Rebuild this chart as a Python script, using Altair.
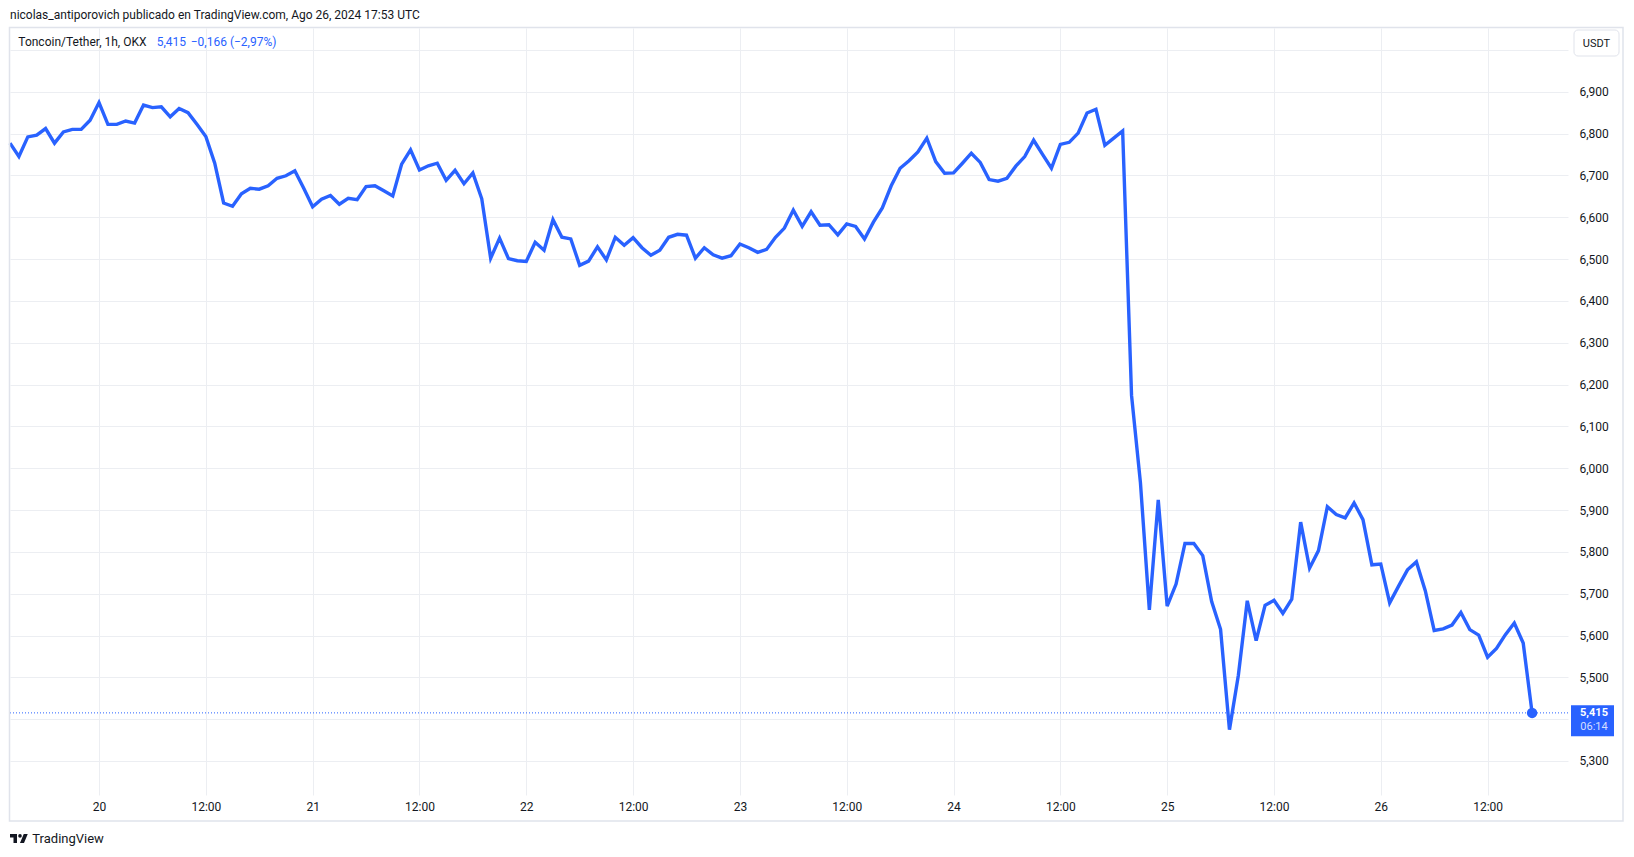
import altair as alt
import pandas as pd

# ---------------- data (hourly closes, TONUSDT, OKX) ----------------
START = "2024-08-19 14:00"
aug19 = [6.777, 6.745, 6.792, 6.796, 6.812, 6.777, 6.804, 6.810, 6.810, 6.832]
aug20 = [6.874, 6.822, 6.822, 6.830, 6.825, 6.868, 6.862, 6.864, 6.840, 6.860, 6.850, 6.822,
         6.793, 6.729, 6.634, 6.626, 6.656, 6.669, 6.667, 6.675, 6.693, 6.699, 6.711, 6.669]
aug21 = [6.625, 6.643, 6.652, 6.631, 6.645, 6.642, 6.673, 6.675, 6.663, 6.651, 6.727, 6.761,
         6.713, 6.723, 6.729, 6.688, 6.712, 6.680, 6.706, 6.644, 6.502, 6.550, 6.501, 6.496]
aug22 = [6.494, 6.540, 6.521, 6.594, 6.552, 6.548, 6.485, 6.495, 6.529, 6.498, 6.552, 6.533,
         6.551, 6.527, 6.509, 6.521, 6.552, 6.559, 6.557, 6.502, 6.527, 6.510, 6.502, 6.508]
aug23 = [6.536, 6.527, 6.516, 6.523, 6.552, 6.574, 6.617, 6.578, 6.613, 6.581, 6.582, 6.558,
         6.584, 6.578, 6.548, 6.588, 6.622, 6.675, 6.717, 6.735, 6.756, 6.789, 6.733, 6.705]
aug24 = [6.706, 6.729, 6.753, 6.731, 6.690, 6.686, 6.693, 6.722, 6.745, 6.784, 6.750, 6.717,
         6.774, 6.779, 6.801, 6.849, 6.858, 6.772, 6.789, 6.806, 6.174, 5.965, 5.661, 5.924]
aug25 = [5.670, 5.723, 5.820, 5.820, 5.791, 5.681, 5.615, 5.375, 5.505, 5.683, 5.588, 5.672,
         5.684, 5.653, 5.687, 5.871, 5.761, 5.803, 5.908, 5.889, 5.881, 5.917, 5.877, 5.769]
aug26 = [5.771, 5.678, 5.718, 5.757, 5.776, 5.707, 5.612, 5.616, 5.625, 5.655, 5.614, 5.601,
         5.548, 5.569, 5.602, 5.630, 5.582, 5.415]

prices = aug19 + aug20 + aug21 + aug22 + aug23 + aug24 + aug25 + aug26

# axis ticks / labels
X_TICKS = ["2024-08-20 00:00", "2024-08-20 12:00", "2024-08-21 00:00", "2024-08-21 12:00",
           "2024-08-22 00:00", "2024-08-22 12:00", "2024-08-23 00:00", "2024-08-23 12:00",
           "2024-08-24 00:00", "2024-08-24 12:00", "2024-08-25 00:00", "2024-08-25 12:00",
           "2024-08-26 00:00", "2024-08-26 12:00"]
Y_TICKS = [5.3, 5.4, 5.5, 5.6, 5.7, 5.8, 5.9, 6.0, 6.1, 6.2, 6.3, 6.4, 6.5, 6.6, 6.7, 6.8, 6.9, 7.0]
Y_HIDDEN_LABELS = [5.4, 7.0]   # grid lines drawn, labels hidden behind price / currency boxes
X_DOMAIN = ["2024-08-19 14:00", "2024-08-26 21:02"]
Y_DOMAIN = [5.2187, 7.0523]

HEADER = "nicolas_antiporovich publicado en TradingView.com, Ago 26, 2024 17:53 UTC"
SYMBOL = "Toncoin/Tether, 1h, OKX"
LAST_TXT = "5,415"
CHANGE_TXT = "\u22120,166 (\u22122,97%)"
COUNTDOWN = "06:14"
CURRENCY = "USDT"
BRAND = "TradingView"

# ---------------- styling ----------------
BLUE = "#2962ff"
TEXT = "#131722"
GRID = "#eceef2"
BORDER = "#e0e3eb"
FONT = "Roboto"
W, H = 1558, 767


def ms(s):
    return int(pd.Timestamp(s, tz="UTC").value // 10**6)


times = pd.date_range(start=START, periods=len(prices), freq="h", tz="UTC")
df = pd.DataFrame({"time": times.strftime("%Y-%m-%dT%H:%M:%SZ"), "price": prices})
last = df.iloc[[-1]].copy()
last["label"] = LAST_TXT
last["cd"] = COUNTDOWN

xscale = alt.Scale(type="utc", domain=[ms(X_DOMAIN[0]), ms(X_DOMAIN[1])], nice=False)
yscale = alt.Scale(domain=Y_DOMAIN, nice=False, zero=False)

hidden_cond = " || ".join(f"abs(datum.value - {v}) < 0.0001" for v in Y_HIDDEN_LABELS)

x_axis = alt.Axis(values=[ms(t) for t in X_TICKS],
                  labelExpr="utchours(datum.value) == 0 ? utcFormat(datum.value, '%d') : utcFormat(datum.value, '%H:%M')",
                  grid=True, gridColor=GRID, gridWidth=1, ticks=False, tickSize=0, domain=False,
                  labelPadding=6, labelFont=FONT, labelFontSize=12, labelColor=TEXT, title=None,
                  labelFlush=False, labelOverlap=False, zindex=0)
y_axis = alt.Axis(orient="right", values=Y_TICKS,
                  labelExpr=f"({hidden_cond}) ? '' : replace(format(datum.value, '.3f'), '.', ',')",
                  grid=True, gridColor=GRID, gridWidth=1, ticks=False, tickSize=0, domain=False,
                  labelPadding=11, labelAlign="left", labelFont=FONT, labelFontSize=12,
                  labelColor=TEXT, title=None, labelFlush=False, labelOverlap=False, zindex=0)

X_ENC = alt.X("time:T", scale=xscale, axis=x_axis)
Y_ENC = alt.Y("price:Q", scale=yscale, axis=y_axis)

one = pd.DataFrame({"k": [0]})

line = alt.Chart(df).mark_line(color=BLUE, strokeWidth=3.4, strokeJoin="miter").encode(
    x=X_ENC, y=Y_ENC,
)

price_rule = alt.Chart(last).mark_rule(color=BLUE, strokeWidth=1, strokeDash=[1, 2]).encode(
    y=Y_ENC, x=alt.value(0), x2=alt.value(W),
)

dot = alt.Chart(last).mark_circle(size=110, color=BLUE, opacity=1).encode(x=X_ENC, y=Y_ENC)

BOX_PATH = "M-1,-0.72H1V0.72H-1Z"
price_box = alt.Chart(last).mark_point(shape=BOX_PATH, filled=True, fill=BLUE, strokeWidth=0,
                                       size=43 * 43, opacity=1, yOffset=7.8).encode(
    x=alt.value(1582.5), y=Y_ENC,
)
price_txt = alt.Chart(last).mark_text(font=FONT, fontSize=11, fontWeight="bold", color="white",
                                      align="center", baseline="middle", yOffset=0.5).encode(
    x=alt.value(1584), y=Y_ENC, text="label:N")
cd_txt = alt.Chart(last).mark_text(font=FONT, fontSize=11, color="#d5dfff",
                                   align="center", baseline="middle", yOffset=14.5).encode(
    x=alt.value(1584), y=Y_ENC, text="cd:N")

usdt_box = alt.Chart(one).mark_rect(fill="white", stroke=BORDER, strokeWidth=1, cornerRadius=4).encode(
    x=alt.value(1564), x2=alt.value(1609), y=alt.value(2), y2=alt.value(28))
usdt_txt = alt.Chart(pd.DataFrame({"t": [CURRENCY]})).mark_text(
    font=FONT, fontSize=11, color=TEXT, align="center", baseline="middle").encode(
    x=alt.value(1586.5), y=alt.value(15.5), text="t:N")

border = alt.Chart(one).mark_rect(filled=False, stroke=BORDER, strokeWidth=1.5).encode(
    x=alt.value(-0.5), x2=alt.value(1613), y=alt.value(-0.5), y2=alt.value(793))

header = alt.Chart(pd.DataFrame({"t": [HEADER]})).mark_text(
    font=FONT, fontSize=12, color=TEXT, align="left", baseline="middle").encode(
    x=alt.value(0), y=alt.value(-13), text="t:N")
symbol = alt.Chart(pd.DataFrame({"t": [SYMBOL]})).mark_text(
    font=FONT, fontSize=12, color=TEXT, align="left", baseline="middle").encode(
    x=alt.value(8.3), y=alt.value(13.7), text="t:N")
val1 = alt.Chart(pd.DataFrame({"t": [LAST_TXT]})).mark_text(
    font=FONT, fontSize=12, color=BLUE, align="left", baseline="middle").encode(
    x=alt.value(146.7), y=alt.value(13.7), text="t:N")
val2 = alt.Chart(pd.DataFrame({"t": [CHANGE_TXT]})).mark_text(
    font=FONT, fontSize=12, color=BLUE, align="left", baseline="middle").encode(
    x=alt.value(180.7), y=alt.value(13.7), text="t:N")

LOGO_PATH = ("M-0.222,0.5L-0.611,0.5L-0.611,-0.111L-1,-0.111L-1,-0.5L-0.222,-0.5Z"
             "M0.556,0.5L0.111,0.5L0.528,-0.5L0.972,-0.5Z")
logo = alt.Chart(one).mark_point(shape=LOGO_PATH, filled=True, fill=TEXT, strokeWidth=0,
                                 size=324, opacity=1).encode(
    x=alt.value(9), y=alt.value(810.4))
logo_dot = alt.Chart(one).mark_circle(size=13, color=TEXT, opacity=1).encode(
    x=alt.value(10), y=alt.value(807.9))
brand = alt.Chart(pd.DataFrame({"t": [BRAND]})).mark_text(
    font=FONT, fontSize=13, color=TEXT, align="left", baseline="middle").encode(
    x=alt.value(22.3), y=alt.value(810.6), text="t:N")

chart = alt.layer(
    line, price_rule, dot, price_box, price_txt, cd_txt, usdt_box, usdt_txt, border,
    header, symbol, val1, val2, logo, logo_dot, brand,
).properties(
    width=W, height=H,
    padding={"left": 2, "top": 20, "right": 58, "bottom": 54},
    autosize=alt.AutoSizeParams(type="none"),
    background="white",
).configure_view(strokeWidth=0)

chart.save("out.html", embed_options={"renderer": "svg", "actions": False})
